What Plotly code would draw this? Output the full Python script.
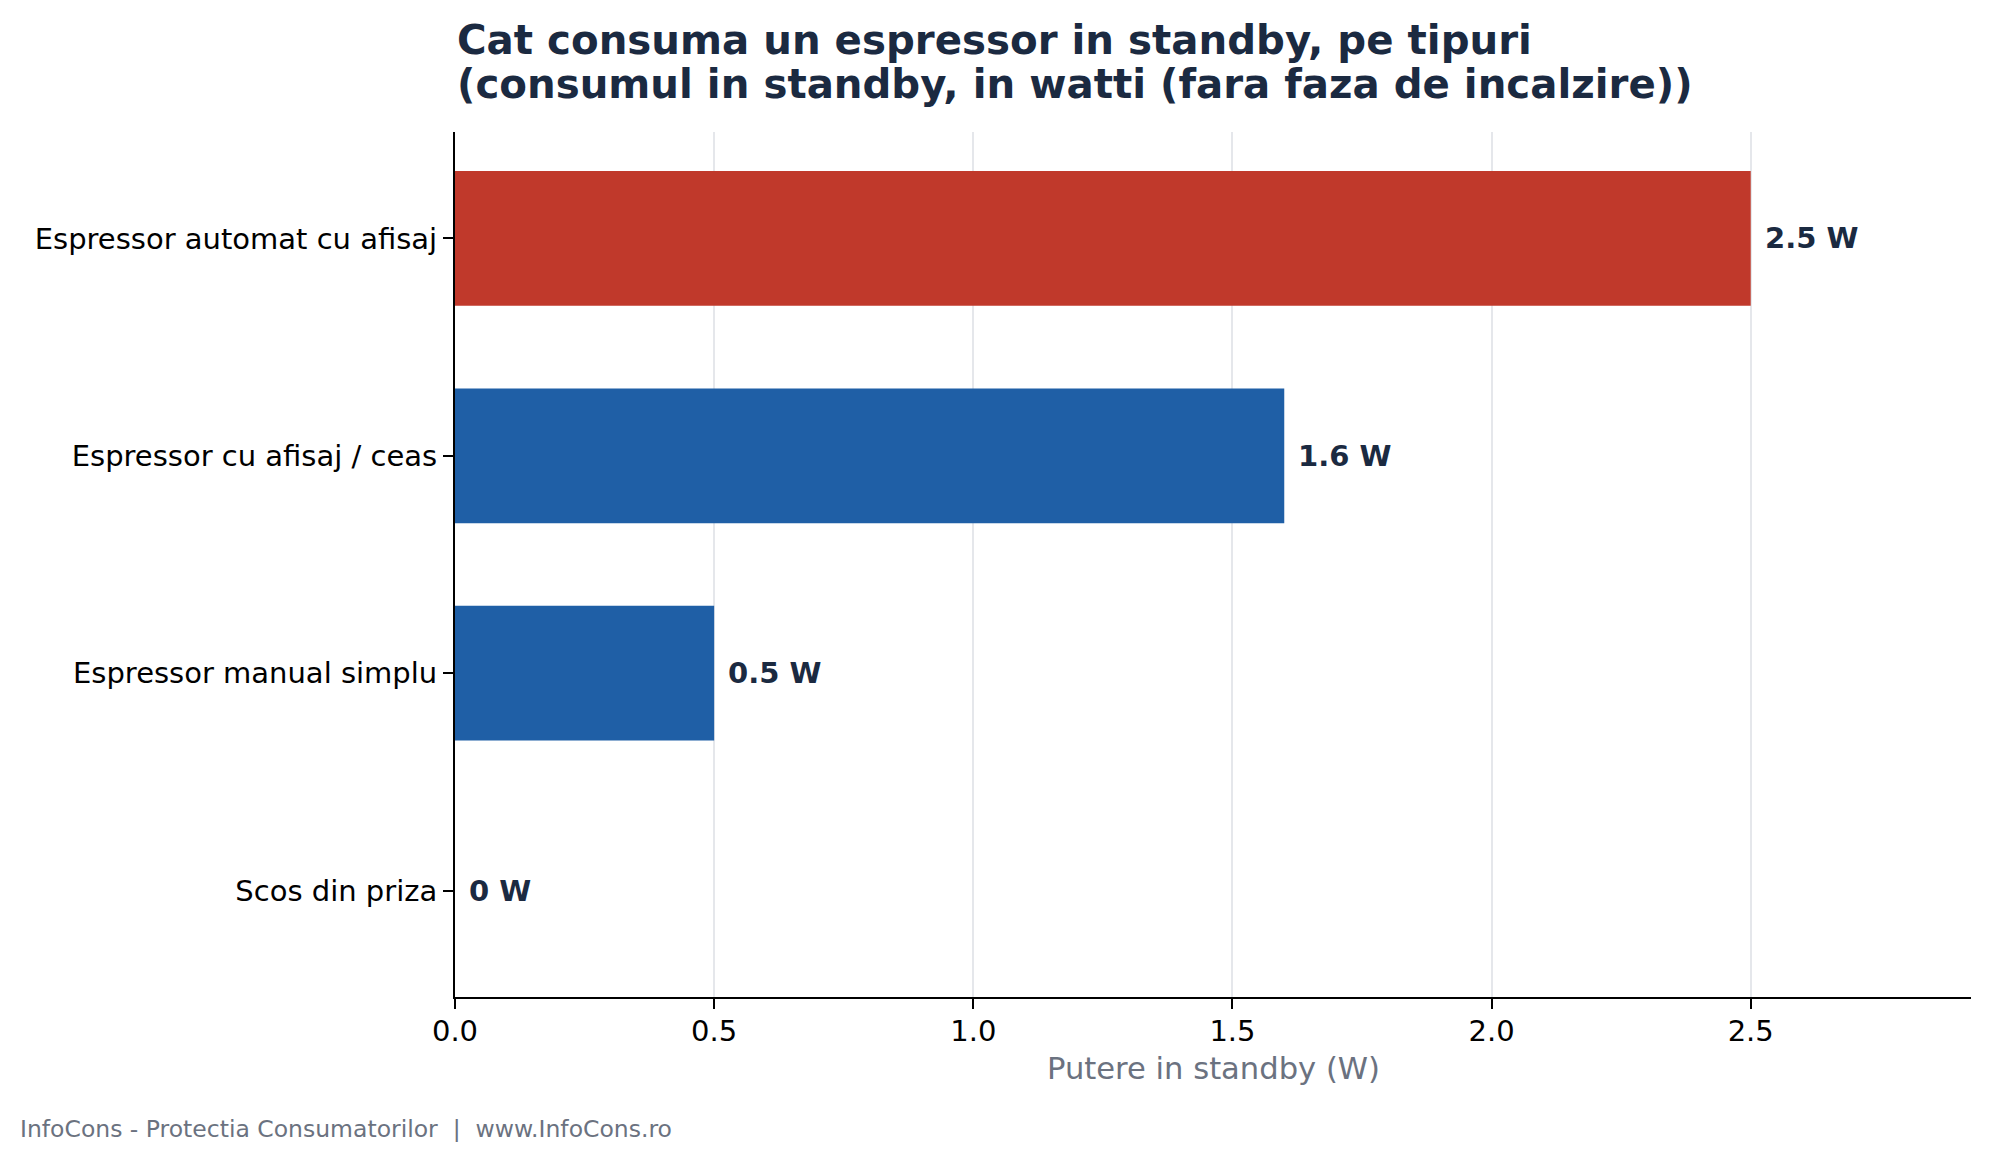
import plotly.graph_objects as go

# date din grafic
categorii = ["Espressor automat cu afisaj", "Espressor cu afisaj / ceas",
             "Espressor manual simplu", "Scos din priza"]
valori = [2.5, 1.6, 0.5, 0]
culori = ["#c0392b", "#1f5fa6", "#1f5fa6", "#1f5fa6"]
etichete = ["2.5 W", "1.6 W", "0.5 W", "0 W"]
x_ticks = [0.0, 0.5, 1.0, 1.5, 2.0, 2.5]
x_ticktext = ["0.0", "0.5", "1.0", "1.5", "2.0", "2.5"]
titlu = ["Cat consuma un espressor in standby, pe tipuri",
         "(consumul in standby, in watti (fara faza de incalzire))"]

# pagina are margine de 8px in browser, asa ca figura e putin mai mica
W, H = 1974, 1148
L, R, T, B = 447, 11, 124, 159
PW, PH = W - L - R, H - T - B
FONT = "DejaVu Sans"
NAVY = "#1b2a41"
GRAY = "#6b7280"


def py(px):
    # pixel (de sus, in figura) -> coordonata paper
    return (H - B - px) / PH


fig = go.Figure()
fig.add_trace(go.Bar(
    y=categorii, x=valori, orientation="h",
    marker=dict(color=culori, line_width=0),
    width=0.62, hoverinfo="x+y",
))

# etichete valori, putin la dreapta barei
for cat, v, t in zip(categorii, valori, etichete):
    fig.add_annotation(x=v + 0.023, y=cat, text="<b>%s</b>" % t, showarrow=False,
                       xanchor="left", yanchor="middle",
                       font=dict(family=FONT, size=29, color=NAVY))

# titlul pe doua randuri
for txt, ypx in zip(titlu, [32, 76.5]):
    fig.add_annotation(text="<b>%s</b>" % txt, xref="paper", yref="paper",
                       x=0, y=py(ypx), xanchor="left", yanchor="middle",
                       showarrow=False, font=dict(family=FONT, size=40.3, color=NAVY))

fig.add_annotation(text="Putere in standby (W)", xref="paper", yref="paper",
                   x=0.5, y=py(1060), xanchor="center", yanchor="middle",
                   showarrow=False, font=dict(family=FONT, size=30.6, color=GRAY))

fig.add_annotation(text="InfoCons - Protectia Consumatorilor  |  www.InfoCons.ro",
                   xref="paper", yref="paper", x=(10 - L) / PW, y=py(1121),
                   xanchor="left", yanchor="middle", showarrow=False,
                   font=dict(family=FONT, size=23.5, color=GRAY))

fig.update_layout(
    width=W, height=H,
    margin=dict(l=L, r=R, t=T, b=B),
    paper_bgcolor="white", plot_bgcolor="white",
    showlegend=False,
    font=dict(family=FONT, size=29, color="black"),
    xaxis=dict(
        range=[0, 2.925], tickvals=x_ticks, ticktext=x_ticktext,
        showgrid=True, gridcolor="#e5e7eb", gridwidth=2,
        showline=True, linecolor="black", linewidth=2,
        ticks="outside", ticklen=10, tickwidth=2, tickcolor="black",
        ticklabelstandoff=-3,
        zeroline=False,
        tickfont=dict(family=FONT, size=29, color="black"),
    ),
    yaxis=dict(
        categoryorder="array", categoryarray=categorii,
        range=[3.49, -0.49],
        showgrid=False, showline=True, linecolor="black", linewidth=2,
        ticks="outside", ticklen=10, tickwidth=2, tickcolor="black",
        zeroline=False,
        tickfont=dict(family=FONT, size=29, color="black"),
    ),
)

fig.write_html("out.html")
